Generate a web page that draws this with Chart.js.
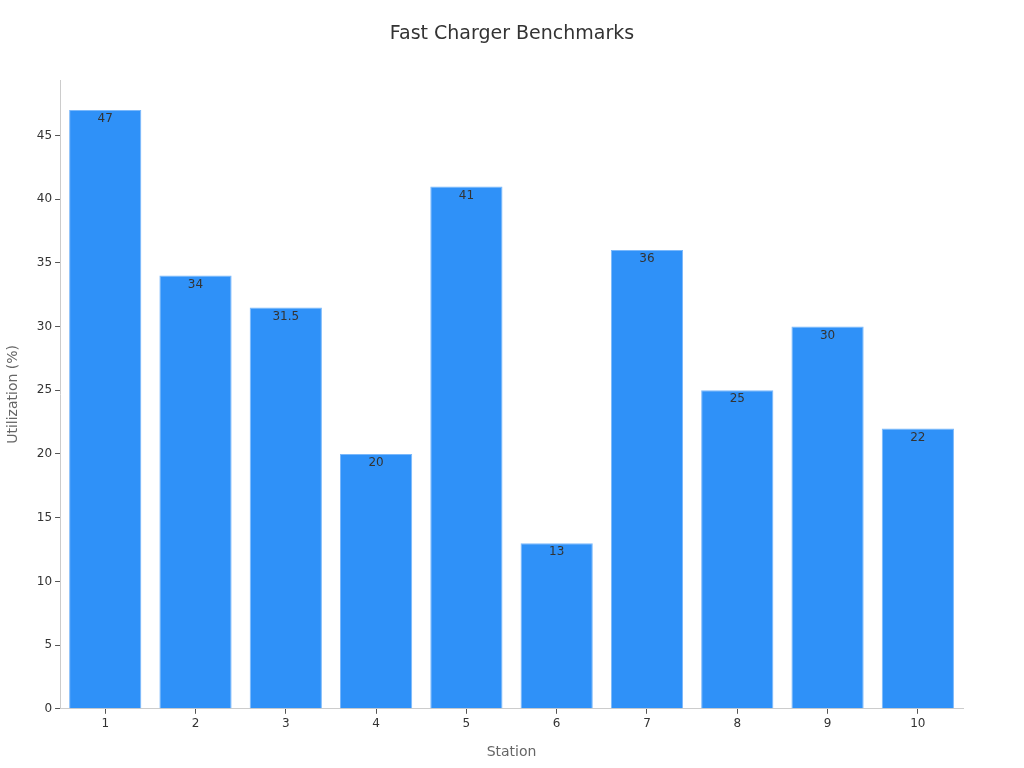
<!DOCTYPE html>
<html>
<head>
<meta charset="utf-8">
<script src="https://cdn.jsdelivr.net/npm/chart.js@4/dist/chart.umd.min.js"></script>
<style>
html,body{margin:0;padding:0;background:#fff;}
#wrap{width:1024px;height:768px;}
</style>
</head>
<body>
<div id="wrap"><canvas id="c" width="1024" height="768"></canvas></div>
<script>
const categories = ['1','2','3','4','5','6','7','8','9','10'];
const utilization = [47, 34, 31.5, 20, 41, 13, 36, 25, 30, 22];
const yTicks = [0, 5, 10, 15, 20, 25, 30, 35, 40, 45];
const chartTitle = 'Fast Charger Benchmarks';

const FONT = "'DejaVu Sans', sans-serif";

const labelPlugin = {
  id: 'barLabels',
  afterDatasetsDraw(chart) {
    const ctx = chart.ctx;
    const meta = chart.getDatasetMeta(0);
    ctx.save();
    ctx.font = '12px ' + FONT;
    ctx.fillStyle = '#333';
    ctx.textAlign = 'center';
    ctx.textBaseline = 'middle';
    meta.data.forEach((bar, i) => {
      ctx.fillText(String(utilization[i]), bar.x, bar.y + 9);
    });
    ctx.restore();
  },
  afterDraw(chart) {
    const ctx = chart.ctx;
    ctx.save();
    ctx.font = '19px ' + FONT;
    ctx.fillStyle = '#333';
    ctx.textAlign = 'center';
    ctx.textBaseline = 'middle';
    ctx.fillText(chartTitle, chart.width / 2, 34);
    ctx.restore();
  }
};

new Chart(document.getElementById('c'), {
  type: 'bar',
  data: {
    labels: categories,
    datasets: [{
      data: utilization,
      backgroundColor: '#2f91f8',
      borderColor: '#7ab8fb',
      borderWidth: 1,
      barPercentage: 0.8,
      categoryPercentage: 1.0
    }]
  },
  options: {
    responsive: false,
    animation: false,
    layout: { padding: { left: 1, right: 61, top: 80, bottom: 1 } },
    plugins: {
      legend: { display: false },
      tooltip: { enabled: false },
      title: { display: false }
    },
    scales: {
      x: {
        grid: { display: true, offset: false, drawOnChartArea: false, drawTicks: true, tickLength: 5, color: '#555' },
        border: { display: true, color: '#ccc' },
        ticks: { color: '#333', font: { family: FONT, size: 12 }, padding: 3 },
        title: { display: true, text: 'Station', color: '#666', font: { family: FONT, size: 14 }, padding: { top: 10, bottom: 6 } }
      },
      y: {
        min: 0,
        max: 49.35,
        afterBuildTicks(axis) { axis.ticks = yTicks.map(v => ({ value: v })); },
        grid: { display: true, drawOnChartArea: false, drawTicks: true, tickLength: 5, color: '#555' },
        border: { display: true, color: '#ccc' },
        ticks: { color: '#333', font: { family: FONT, size: 12 }, padding: 3 },
        title: { display: true, text: 'Utilization (%)', color: '#666', font: { family: FONT, size: 14 }, padding: { bottom: 12 } }
      }
    }
  },
  plugins: [labelPlugin]
});
</script>
</body>
</html>
